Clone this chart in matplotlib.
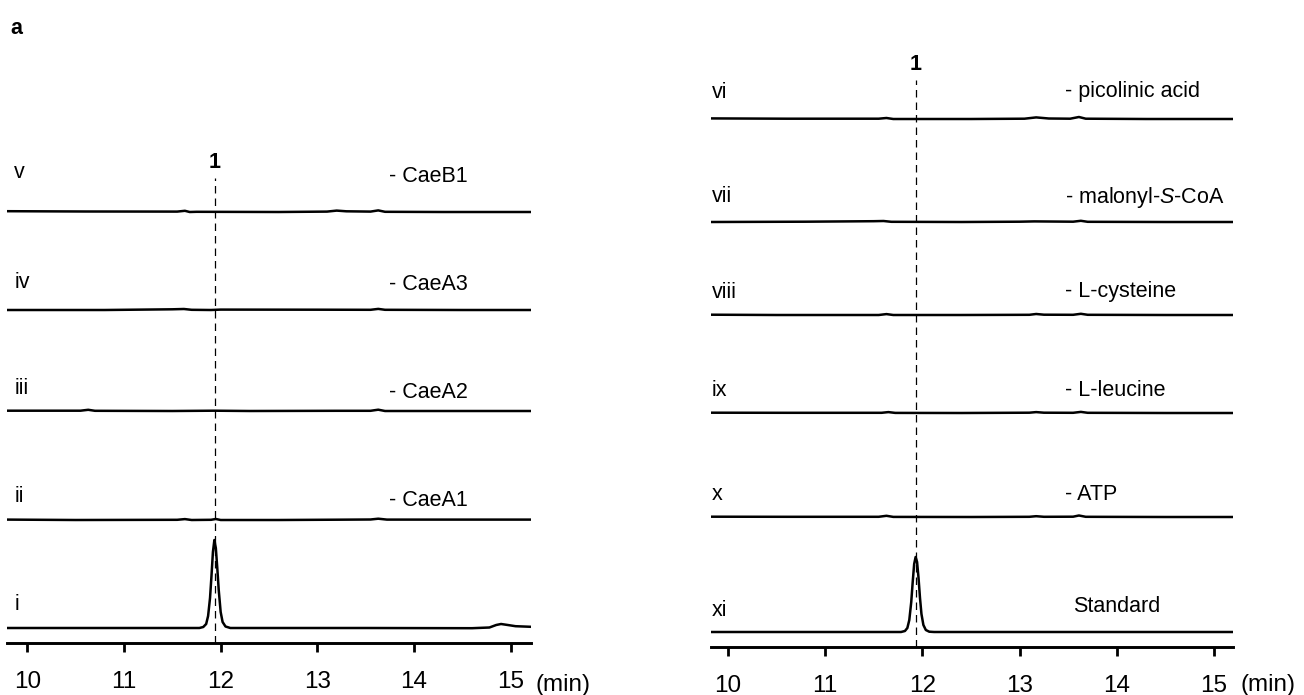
import matplotlib
matplotlib.use("Agg")
import matplotlib.pyplot as plt

plt.rcParams['font.family'] = ['Liberation Sans', 'DejaVu Sans']
plt.rcParams['mathtext.fontset'] = 'custom'
plt.rcParams['mathtext.rm'] = 'Liberation Sans'
plt.rcParams['mathtext.it'] = 'Liberation Sans:italic'

# ---- data: retention time (min) and signal (arbitrary, relative to baseline)
# left panel
left_names = ['v', 'iv', 'iii', 'ii', 'i']
left_conditions = ['- CaeB1', '- CaeA3', '- CaeA2', '- CaeA1', '']

v_t = [9.79, 10.6, 11.55, 11.63, 11.68, 11.75, 12.6, 13.1, 13.2, 13.3, 13.55, 13.63, 13.7, 14.3, 15.21]
v_y = [0.8, 0.5, 0.4, 1.2, 0.0, 0.2, 0.0, 0.4, 1.4, 0.7, 0.4, 1.6, 0.2, 0.0, 0.0]
iv_t = [9.79, 10.8, 11.5, 11.62, 11.7, 11.9, 12.0, 13.0, 13.55, 13.63, 13.7, 14.5, 15.21]
iv_y = [0.0, 0.0, 0.7, 1.0, 0.2, 0.0, 0.4, 0.3, 0.2, 1.1, 0.2, 0.0, 0.0]
iii_t = [9.79, 10.55, 10.63, 10.7, 11.5, 11.93, 12.3, 13.2, 13.55, 13.63, 13.7, 14.5, 15.21]
iii_y = [0.3, 0.3, 1.2, 0.2, 0.0, 0.3, 0.0, 0.2, 0.2, 1.3, 0.0, 0.0, 0.0]
ii_t = [9.79, 10.5, 11.55, 11.63, 11.7, 11.9, 11.95, 12.0, 12.6, 13.2, 13.55, 13.63, 13.72, 14.4, 15.21]
ii_y = [0.4, 0.0, 0.2, 0.9, 0.0, 0.2, 1.0, 0.0, 0.0, 0.3, 0.5, 1.3, 0.4, 0.4, 0.4]
i_t = [9.79, 10.5, 11.5, 11.78, 11.82, 11.85, 11.87, 11.89, 11.905, 11.92, 11.935, 11.95, 11.965,
       11.98, 12.0, 12.02, 12.05, 12.1, 12.5, 13.5, 14.6, 14.78, 14.85, 14.9, 14.97, 15.05, 15.21]
i_y = [0.0, 0.0, 0.0, 0.0, 1.0, 4.0, 12.0, 30.0, 52.0, 76.0, 88.0, 80.0, 60.0,
       38.0, 16.0, 6.0, 1.5, 0.0, 0.0, 0.0, -0.2, 0.5, 3.0, 4.0, 3.0, 1.8, 1.2]

# right panel
right_names = ['vi', 'vii', 'viii', 'ix', 'x', 'xi']
right_conditions = ['- picolinic acid', '- malonyl-$S$-CoA', '- L-cysteine', '- L-leucine', '- ATP', 'Standard']

vi_t = [9.82, 10.6, 11.55, 11.63, 11.7, 12.5, 13.05, 13.17, 13.3, 13.52, 13.61, 13.68, 14.3, 15.2]
vi_y = [0.6, 0.3, 0.3, 1.0, 0.0, 0.0, 0.3, 1.6, 0.5, 0.3, 2.0, 0.3, 0.0, 0.0]
vii_t = [9.82, 10.8, 11.5, 11.6, 11.68, 12.4, 13.0, 13.15, 13.55, 13.63, 13.7, 14.5, 15.2]
vii_y = [0.0, 0.3, 0.8, 1.0, 0.2, 0.0, 0.3, 0.6, 0.3, 1.2, 0.2, 0.0, 0.0]
viii_t = [9.82, 10.5, 11.55, 11.63, 11.7, 12.4, 13.1, 13.17, 13.25, 13.55, 13.63, 13.7, 14.5, 15.2]
viii_y = [0.3, 0.0, 0.0, 0.9, 0.0, 0.0, 0.2, 1.0, 0.3, 0.2, 1.2, 0.2, 0.0, 0.0]
ix_t = [9.82, 10.6, 11.58, 11.65, 11.72, 12.4, 13.1, 13.17, 13.25, 13.55, 13.63, 13.7, 14.5, 15.2]
ix_y = [0.3, 0.2, 0.2, 0.9, 0.1, 0.0, 0.3, 0.9, 0.3, 0.2, 1.1, 0.2, 0.0, 0.0]
x_t = [9.82, 10.6, 11.55, 11.63, 11.7, 12.5, 13.1, 13.17, 13.25, 13.55, 13.61, 13.68, 14.5, 15.2]
x_y = [0.3, 0.2, 0.2, 1.2, 0.1, 0.0, 0.2, 0.8, 0.2, 0.3, 1.5, 0.2, 0.0, 0.0]
xi_t = [9.82, 11.0, 11.78, 11.82, 11.845, 11.865, 11.885, 11.9, 11.915, 11.93, 11.945, 11.96,
        11.975, 11.99, 12.01, 12.035, 12.07, 12.12, 13.0, 15.2]
xi_y = [0.0, 0.0, 0.0, 1.0, 4.0, 12.0, 30.0, 50.0, 68.0, 75.0, 70.0, 54.0,
        34.0, 18.0, 7.0, 2.0, 0.3, 0.0, 0.0, 0.0]

peak_rt = [11.94, 11.93]
ticks = [10, 11, 12, 13, 14, 15]

left_traces = [(v_t, v_y), (iv_t, iv_y), (iii_t, iii_y), (ii_t, ii_y), (i_t, i_y)]
right_traces = [(vi_t, vi_y), (vii_t, vii_y), (viii_t, viii_y), (ix_t, ix_y), (x_t, x_y), (xi_t, xi_y)]

# ---- layout (pixel based, image is 1304 x 695)
W, H = 1304, 695
LW_TRACE = 1.8
FS_TICK = 17.5
FS_LAB = 15.5

fig = plt.figure(figsize=(13.04, 6.95), dpi=100)


def make_axes(px_left, px_right, px_bottom, px_top, xlim):
    ax = fig.add_axes([px_left / W, 1 - px_bottom / H, (px_right - px_left) / W, (px_bottom - px_top) / H])
    ax.set_xlim(*xlim)
    ax.set_ylim(0, px_bottom - px_top)
    for s in ['top', 'left', 'right']:
        ax.spines[s].set_visible(False)
    ax.spines['bottom'].set_linewidth(2.1)
    ax.set_yticks([])
    ax.set_xticks(ticks)
    ax.tick_params(axis='x', direction='out', length=6.5, width=2, labelsize=FS_TICK, pad=13.5)
    ax.patch.set_alpha(0)
    return ax


# left panel
axL = make_axes(7, 531, 643, 40, (9.79, 15.21))
left_base = [643 - p for p in [212, 310, 411, 520, 628]]
left_lab_y = [643 - p for p in [172, 282, 388, 497, 605]]
left_cond_y = [643 - p for p in [177, 285, 392, 500, 605]]
for (t, y), b, name, cond, ly, cy in zip(left_traces, left_base, left_names, left_conditions, left_lab_y, left_cond_y):
    axL.plot(t, [b + v for v in y], color='black', lw=LW_TRACE, solid_joinstyle='round')
    axL.text(9.866, ly, name, fontsize=FS_LAB, ha='left', va='center')
    if cond:
        axL.text(13.74, cy, cond, fontsize=FS_LAB, ha='left', va='center')
axL.plot([peak_rt[0], peak_rt[0]], [0, 643 - 178], color='black', lw=0.9, dashes=(6, 4))
axL.text(peak_rt[0], 643 - 163, '1', fontsize=FS_LAB, fontweight='bold', ha='center', va='center')
axL.text(15.26, 643 - 685, '(min)', fontsize=FS_TICK, ha='left', va='center', clip_on=False)

# right panel
axR = make_axes(711, 1233, 647, 40, (9.825, 15.195))
right_base = [647 - p for p in [119, 222, 315, 413, 517, 632]]
right_lab_y = [647 - p for p in [93, 197, 292, 390, 495, 610]]
right_cond_y = [647 - p for p in [92, 197, 292, 390, 495, 607]]
for (t, y), b, name, cond, ly, cy in zip(right_traces, right_base, right_names, right_conditions, right_lab_y, right_cond_y):
    axR.plot(t, [b + v for v in y], color='black', lw=LW_TRACE, solid_joinstyle='round')
    axR.text(9.835, ly, name, fontsize=FS_LAB, ha='left', va='center')
    cx = 13.55 if cond == 'Standard' else 13.47
    axR.text(cx, cy, cond, fontsize=FS_LAB, ha='left', va='center')
axR.plot([peak_rt[1], peak_rt[1]], [0, 647 - 80], color='black', lw=0.9, dashes=(6, 4))
axR.text(peak_rt[1], 647 - 65, '1', fontsize=FS_LAB, fontweight='bold', ha='center', va='center')
axR.text(15.27, 647 - 685, '(min)', fontsize=FS_TICK, ha='left', va='center', clip_on=False)

fig.text(10 / W, 1 - 28 / H, 'a', fontsize=FS_LAB, fontweight='bold', ha='left', va='center')

fig.savefig('out.png', dpi=100)
